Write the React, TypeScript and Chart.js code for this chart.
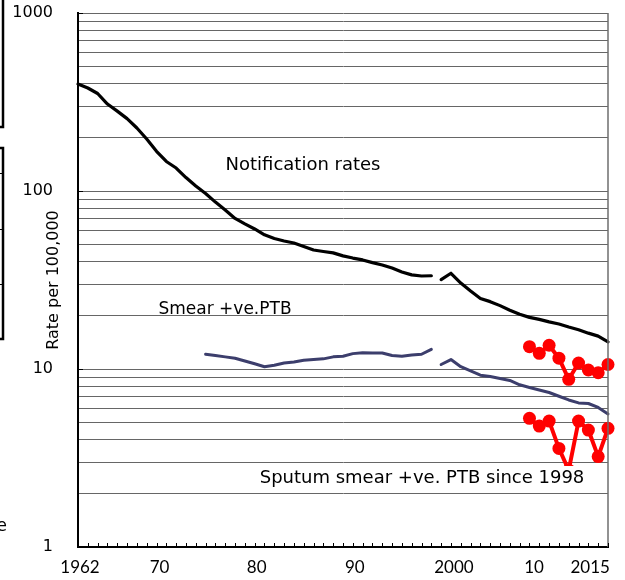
import React, { useEffect, useRef } from 'react';
import { Chart, registerables } from 'chart.js';

Chart.register(...registerables);

// ---------- data ----------
const notifYearsOld = [1962, 1963, 1964, 1965, 1966, 1967, 1968, 1969, 1970, 1971, 1972, 1973, 1974, 1975, 1976, 1977, 1978, 1979, 1980, 1981, 1982, 1983, 1984, 1985, 1986, 1987, 1988, 1989, 1990, 1991, 1992, 1993, 1994, 1995, 1996, 1997, 1998];
const notifRatesOld = [399, 379, 353, 308, 281, 255, 226, 196, 167, 146.5, 134.6, 119, 106.7, 96.8, 86.6, 78.2, 70.1, 65.3, 61.2, 56.7, 54.1, 52.4, 51, 48.8, 46.6, 45.7, 44.9, 43.2, 42, 41, 39.6, 38.4, 36.9, 35.1, 33.8, 33.3, 33.4];

const newYears = [1999, 2000, 2001, 2002, 2003, 2004, 2005, 2006, 2007, 2008, 2009, 2010, 2011, 2012, 2013, 2014, 2015, 2016];
const notifRatesNew = [31.8, 34.5, 30.4, 27.4, 24.9, 23.9, 22.7, 21.4, 20.3, 19.5, 19, 18.4, 17.9, 17.2, 16.6, 15.9, 15.3, 14.2];

const smearYearsOld = [1975, 1976, 1977, 1978, 1979, 1980, 1981, 1982, 1983, 1984, 1985, 1986, 1987, 1988, 1989, 1990, 1991, 1992, 1993, 1994, 1995, 1996, 1997, 1998];
const smearRatesOld = [12.1, 11.9, 11.7, 11.5, 11.1, 10.7, 10.3, 10.5, 10.8, 10.95, 11.2, 11.3, 11.4, 11.7, 11.8, 12.2, 12.35, 12.3, 12.3, 11.9, 11.8, 12.0, 12.1, 12.9];
const smearRatesNew = [10.6, 11.3, 10.3, 9.75, 9.23, 9.08, 8.85, 8.62, 8.15, 7.87, 7.62, 7.38, 7.03, 6.7, 6.45, 6.4, 6.08, 5.59];

const redYears = [2008, 2009, 2010, 2011, 2012, 2013, 2014, 2015, 2016];
const redUpper = [13.35, 12.25, 13.6, 11.5, 8.75, 10.8, 9.87, 9.53, 10.6];
const redLower = [5.28, 4.78, 5.1, 3.58, 2.7, 5.1, 4.54, 3.22, 4.64];

const xTickYears = [1962, 1970, 1980, 1990, 2000, 2010, 2015];
const xTickLabels = ['1962', '70', '80', '90', '2000', '10', '2015'];

const yGridValues = [1, 2, 3, 4, 5, 6, 7, 8, 9, 10, 20, 30, 40, 50, 60, 70, 80, 90, 100, 200, 300, 400, 500, 600, 700, 800, 900, 1000];
const yLabelValues = [1, 10, 100, 1000];

const yAxisTitle = 'Rate per 100,000';
const labelNotif = 'Notification rates';
const labelSmear = 'Smear +ve.PTB';
const labelSputum = 'Sputum smear +ve. PTB since 1998';

const toPts = (years: number[], vals: number[]) => years.map((yr, i) => ({ x: yr, y: vals[i] }));

const NAVY = '#3c3e6c';
const RED = '#ff0000';

// small pixel nudges of the year labels, as placed in the original figure
const xLabelNudge = [2, 3, 2, 2, 3, -15, -8];

const decorPlugin = {
  id: 'decor',
  afterDatasetsDraw(chart: any) {
    const { ctx, chartArea: a, scales } = chart;
    const xs = scales.x;
    const ys = scales.y;
    ctx.save();

    // right border
    ctx.strokeStyle = '#6e6e6e';
    ctx.lineWidth = 1.5;
    ctx.beginPath();
    ctx.moveTo(a.right, a.top);
    ctx.lineTo(a.right, a.bottom);
    ctx.stroke();

    // minor year ticks pointing inward
    ctx.strokeStyle = '#000';
    ctx.lineWidth = 1;
    ctx.beginPath();
    for (let yr = xs.min; yr <= xs.max; yr++) {
      const px = Math.round(xs.getPixelForValue(yr)) + 0.5;
      ctx.moveTo(px, a.bottom);
      ctx.lineTo(px, a.bottom - 4);
    }
    ctx.stroke();

    // inward ticks at major y values
    ctx.beginPath();
    yLabelValues.forEach((v) => {
      const py = Math.round(ys.getPixelForValue(v)) + 0.5;
      ctx.moveTo(a.left, py);
      ctx.lineTo(a.left + 5, py);
    });
    ctx.stroke();

    // year labels
    ctx.fillStyle = '#000';
    ctx.textAlign = 'center';
    ctx.textBaseline = 'middle';
    ctx.font = '17px Lato';
    xTickYears.forEach((yr, i) => {
      ctx.fillText(xTickLabels[i], xs.getPixelForValue(yr) + xLabelNudge[i], a.bottom + 21);
    });

    // annotations
    ctx.font = '18px "DejaVu Sans"';
    ctx.fillText(labelNotif, 303, 165);
    ctx.font = '17px "DejaVu Sans"';
    ctx.fillText(labelSmear, 225, 310);

    ctx.font = '18px "DejaVu Sans"';
    const w = ctx.measureText(labelSputum).width;
    ctx.fillStyle = '#fff';
    ctx.fillRect(422 - w / 2 - 6, 466, w + 12, 25);
    ctx.fillStyle = '#000';
    ctx.fillText(labelSputum, 422, 478);

    // y axis title
    ctx.save();
    ctx.translate(54, (a.top + a.bottom) / 2);
    ctx.rotate(-Math.PI / 2);
    ctx.font = '16px "DejaVu Sans"';
    ctx.fillText(yAxisTitle, 0, 0);
    ctx.restore();

    // fragments of neighbouring figure at the left edge
    ctx.strokeStyle = '#000';
    ctx.lineWidth = 2.5;
    ctx.beginPath();
    ctx.moveTo(3, 0);
    ctx.lineTo(3, 127);
    ctx.lineTo(0, 127);
    ctx.moveTo(0, 148);
    ctx.lineTo(3, 148);
    ctx.lineTo(3, 339);
    ctx.lineTo(0, 339);
    ctx.stroke();
    ctx.lineWidth = 1;
    ctx.beginPath();
    [173, 229, 284].forEach((yy) => {
      ctx.moveTo(0, yy + 0.5);
      ctx.lineTo(3, yy + 0.5);
    });
    ctx.stroke();
    ctx.font = '17px "DejaVu Sans"';
    ctx.textAlign = 'right';
    ctx.textBaseline = 'alphabetic';
    ctx.fillText('e', 7, 531);

    ctx.restore();
  },
};

export default function App() {
  const ref = useRef<HTMLCanvasElement>(null);

  useEffect(() => {
    const lineBase = {
      pointRadius: 0,
      tension: 0,
      borderCapStyle: 'round' as const,
      borderJoinStyle: 'round' as const,
      clip: false as const,
    };
    const chart = new Chart(ref.current!, {
      type: 'line',
      data: {
        datasets: [
          { ...lineBase, data: toPts(notifYearsOld, notifRatesOld), borderColor: '#000', borderWidth: 3.2 },
          { ...lineBase, data: toPts(newYears, notifRatesNew), borderColor: '#000', borderWidth: 3.2 },
          { ...lineBase, data: toPts(smearYearsOld, smearRatesOld), borderColor: NAVY, borderWidth: 3 },
          { ...lineBase, data: toPts(newYears, smearRatesNew), borderColor: NAVY, borderWidth: 3 },
          {
            ...lineBase,
            data: toPts(redYears, redUpper),
            borderColor: RED,
            borderWidth: 4,
            pointRadius: 6.5,
            pointBackgroundColor: RED,
            pointBorderColor: RED,
            pointBorderWidth: 0,
          },
          {
            ...lineBase,
            data: toPts(redYears, redLower),
            borderColor: RED,
            borderWidth: 4,
            pointRadius: 6.5,
            pointBackgroundColor: RED,
            pointBorderColor: RED,
            pointBorderWidth: 0,
          },
        ],
      },
      options: {
        responsive: false,
        animation: false,
        events: [],
        devicePixelRatio: 1,
        layout: { padding: { top: 13, right: 17, left: 0, bottom: 0 } },
        plugins: { legend: { display: false }, tooltip: { enabled: false }, title: { display: false } },
        scales: {
          x: {
            type: 'linear',
            min: 1962,
            max: 2016,
            offset: false,
            grid: { display: false, drawTicks: false },
            border: { display: true, color: '#000', width: 2 },
            ticks: { display: false },
            afterBuildTicks: (s: any) => {
              s.ticks = xTickYears.map((v) => ({ value: v }));
            },
            afterFit: (s: any) => {
              s.height = 33;
              s.paddingLeft = 0;
              s.paddingRight = 0;
            },
          },
          y: {
            type: 'logarithmic',
            min: 1,
            max: 1000,
            grid: { display: true, color: '#666666', lineWidth: 1, drawTicks: false },
            border: { display: true, color: '#000', width: 2 },
            ticks: {
              autoSkip: false,
              padding: 25,
              color: '#000',
              font: { family: 'DejaVu Sans', size: 16 },
              callback: (v: any) => (yLabelValues.includes(Number(v)) ? String(v) : ''),
            },
            afterBuildTicks: (s: any) => {
              s.ticks = yGridValues.map((v) => ({ value: v }));
            },
            afterFit: (s: any) => {
              s.width = 78;
              s.paddingTop = 0;
              s.paddingBottom = 0;
            },
          },
        },
      },
      plugins: [decorPlugin],
    } as any);
    return () => chart.destroy();
  }, []);

  return (
    <div style={{ position: 'absolute', left: 0, top: 0, width: 625, height: 580, background: '#fff' }}>
      <canvas ref={ref} width={625} height={580} style={{ display: 'block', width: 625, height: 580 }} />
    </div>
  );
}
